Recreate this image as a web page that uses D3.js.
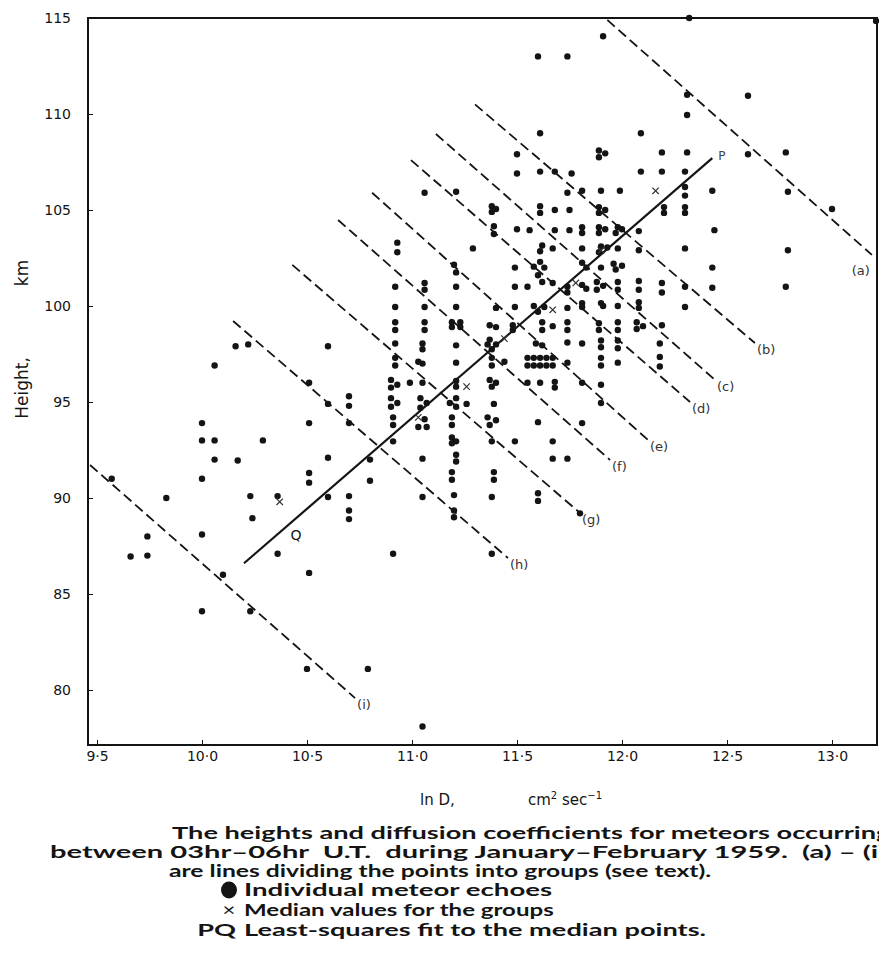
<!DOCTYPE html>
<html><head><meta charset="utf-8">
<script src="https://cdn.jsdelivr.net/npm/d3@7"></script>
<style>body{margin:0;background:#fff}</style>
</head><body><svg id="c" width="879" height="979"></svg>
<script>
const xTicks=[9.5,10,10.5,11,11.5,12,12.5,13];
const xTickLabels=["9·5","10·0","10·5","11·0","11·5","12·0","12·5","13·0"];
const yTicks=[80,85,90,95,100,105,110,115];
const yTickLabels=["80","85","90","95","100","105","110","115"];

// individual meteor echoes [ln D, height km]
const echoes=[
[9.57,91.0],[9.66,86.95],[9.74,88.0],[9.74,87.0],[9.83,90.0],[10.0,91.0],[10.0,88.1],[10.1,86.0],[10.0,84.1],[10.23,84.1],[10.23,90.1],[10.24,88.95],[10.36,90.1],[10.36,87.1],[10.51,86.1],[10.5,81.1],[10.79,81.1],[10.6,90.05],[10.7,90.1],[10.7,89.35],[10.7,88.9],[10.51,90.8],[10.8,90.9],[11.05,78.1],
[10.0,93.0],[10.06,93.0],[10.0,93.9],[10.06,92.0],[10.29,93.0],[10.17,91.95],[10.06,96.9],[10.16,97.9],[10.22,98.0],[10.6,97.9],[10.51,96.0],[10.6,94.9],[10.7,95.3],[10.7,94.8],[10.7,93.9],[10.51,93.9],[10.6,92.1],[10.51,91.3],[10.8,92.0],
[10.93,103.3],[10.93,102.8],[10.92,101.0],[10.92,99.95],[10.92,99.15],[10.92,98.75],[10.92,98.05],[10.92,97.3],[10.92,96.9],[10.9,96.15],[10.93,95.9],[10.9,95.75],[10.9,95.2],[10.93,94.95],[10.9,94.75],[10.91,94.2],[10.91,93.8],[10.91,92.95],[10.91,87.1],[10.99,96.0],
[11.06,105.9],[11.06,101.2],[11.06,100.85],[11.06,99.95],[11.06,99.15],[11.06,98.75],[11.05,98.05],[11.05,97.75],[11.03,97.1],[11.05,97.0],[11.05,96.0],[11.04,95.2],[11.07,94.95],[11.04,94.7],[11.06,94.1],[11.03,93.7],[11.07,93.7],[11.05,92.05],[11.05,90.05],
[11.21,105.95],[11.2,102.15],[11.21,101.75],[11.21,101.0],[11.21,99.95],[11.19,99.15],[11.23,99.15],[11.19,98.9],[11.23,98.9],[11.21,97.95],[11.21,97.05],[11.21,96.1],[11.21,95.8],[11.18,94.95],[11.21,95.2],[11.21,94.75],[11.26,94.9],[11.19,94.2],[11.19,93.8],[11.19,93.15],[11.21,92.95],[11.19,92.85],[11.21,92.25],[11.21,91.9],[11.19,91.35],[11.19,90.95],[11.2,90.15],[11.2,89.35],[11.2,89.0],[11.29,103.0],
[11.38,105.2],[11.4,105.05],[11.38,104.9],[11.39,104.15],[11.39,103.75],[11.4,99.9],[11.37,99.0],[11.4,98.9],[11.36,98.0],[11.4,98.0],[11.38,97.75],[11.37,98.25],[11.38,97.3],[11.38,96.9],[11.44,97.1],[11.37,96.15],[11.4,96.0],[11.38,95.8],[11.39,94.9],[11.36,94.2],[11.4,94.05],[11.37,93.8],[11.38,92.95],[11.39,91.35],[11.39,90.95],[11.38,90.05],[11.38,87.1],
[11.5,107.9],[11.5,106.9],[11.5,104.0],[11.49,102.0],[11.49,101.0],[11.49,99.95],[11.48,99.0],[11.48,98.75],[11.49,92.95],[11.56,103.95],[11.55,101.0],
[11.6,113.0],[11.61,109.0],[11.61,107.0],[11.61,105.2],[11.61,104.85],[11.62,103.15],[11.61,102.85],[11.58,102.05],[11.61,102.3],[11.63,102.0],[11.6,101.6],[11.62,101.25],[11.67,101.2],[11.58,100.0],[11.6,99.7],[11.63,99.95],[11.62,99.15],[11.62,98.75],[11.67,98.95],[11.59,98.05],[11.62,97.95],[11.55,97.3],[11.58,97.3],[11.61,97.3],[11.64,97.3],[11.55,96.9],[11.58,96.9],[11.61,96.9],[11.64,96.9],[11.67,97.3],[11.67,96.9],[11.55,96.0],[11.61,96.0],[11.6,93.95],[11.6,90.25],[11.6,89.85],
[11.68,107.0],[11.68,105.0],[11.68,103.95],[11.67,103.0],[11.68,96.05],[11.68,95.75],[11.67,92.95],[11.67,92.05],
[11.74,113.0],[11.76,106.9],[11.74,105.9],[11.75,105.0],[11.75,103.95],[11.74,101.0],[11.74,100.7],[11.74,99.9],[11.74,99.15],[11.74,98.75],[11.74,98.1],[11.74,97.05],[11.74,92.05],
[11.81,106.0],[11.81,104.1],[11.81,103.8],[11.81,103.0],[11.81,102.25],[11.83,102.0],[11.81,101.1],[11.83,100.9],[11.81,100.15],[11.81,99.95],[11.81,98.05],[11.81,96.0],[11.81,93.9],[11.8,89.2],
[11.91,114.05],[11.89,108.1],[11.89,107.75],[11.92,107.95],[11.9,106.0],[11.89,105.15],[11.89,104.85],[11.92,105.0],[11.89,104.1],[11.92,104.0],[11.89,103.8],[11.9,103.1],[11.93,103.05],[11.89,102.8],[11.9,102.0],[11.88,101.25],[11.91,101.05],[11.88,100.85],[11.9,100.15],[11.91,100.0],[11.89,99.1],[11.89,98.75],[11.9,98.2],[11.9,97.85],[11.9,97.3],[11.9,96.9],[11.9,95.9],[11.9,94.95],
[11.99,106.0],[11.98,104.1],[12.0,104.0],[11.97,103.8],[11.98,103.0],[11.96,102.2],[11.97,101.9],[12.0,102.1],[11.98,101.25],[11.98,100.85],[11.98,100.0],[11.98,99.15],[11.98,98.75],[11.98,98.2],[11.98,97.8],[11.98,97.05],
[12.09,109.0],[12.09,107.0],[12.08,103.9],[12.08,102.9],[12.08,101.3],[12.08,100.85],[12.08,100.2],[12.08,99.9],[12.07,99.15],[12.07,98.8],[12.1,98.95],
[12.19,108.0],[12.19,107.0],[12.2,105.15],[12.2,104.85],[12.19,101.2],[12.19,100.7],[12.19,99.0],[12.18,98.05],[12.18,97.35],[12.18,96.85],
[12.32,115.0],[12.31,111.0],[12.31,109.95],[12.31,108.0],[12.3,107.0],[12.3,106.2],[12.3,105.75],[12.3,105.15],[12.3,104.85],[12.3,103.0],[12.3,101.0],[12.3,99.95],
[12.43,106.0],[12.44,103.95],[12.43,102.0],[12.43,100.95],
[12.6,110.95],[12.6,107.9],[12.78,108.0],[12.79,105.95],[12.79,102.9],[12.78,101.0],[13.0,105.05],[13.21,114.85]
];

// median values for the groups
const medians=[[10.37,89.8],[11.03,94.2],[11.26,95.8],[11.44,98.3],[11.67,99.8],[11.78,101.2],[11.9,102.9],[12.16,106.0]];

// least-squares fit PQ (Q lower end, P upper end)
const fitPQ=[[10.2,86.6],[12.43,107.7]];

// dividing lines (a)-(i): start and end [ln D, height]
const lineIds=["a","b","c","d","e","f","g","h","i"];
const lineStarts=[[11.93,114.9],[11.3,110.5],[11.114,108.96],[10.995,107.6],[10.81,105.9],[10.648,104.48],[10.43,102.14],[10.148,99.22],[9.467,91.72]];
const lineEnds=[[13.19,102.66],[12.633,98.07],[12.443,96.15],[12.324,95.0],[12.124,93.02],[11.943,91.98],[11.8,89.22],[11.457,86.875],[10.729,79.58]];

const captionLines=[
 "The heights and diffusion coefficients for meteors occurring",
 "between 03hr–06hr  U.T.  during January–February 1959.  (a) – (i)",
 "are lines dividing the points into groups (see text)."
];
const legendItems=["Individual meteor echoes","Median values for the groups","Least-squares fit to the median points."];

const svg=d3.select("#c");
const L=88,R=877,T=18,B=745;
const x=d3.scaleLinear().domain([9.5,13.0]).range([97,832]);
const y=d3.scaleLinear().domain([80,115]).range([690,18]);
const ink="#141414";

// frame
svg.append("rect").attr("x",L).attr("y",T).attr("width",R-L).attr("height",B-T)
  .attr("fill","none").attr("stroke",ink).attr("stroke-width",2);

// axes
const xAxis=d3.axisBottom(x).tickValues(xTicks).tickSize(-5).tickFormat((d,i)=>xTickLabels[i]);
const gx=svg.append("g").attr("transform",`translate(0,${B})`).call(xAxis);
gx.select(".domain").remove();
gx.selectAll("line").attr("stroke",ink);
gx.selectAll("text").attr("dy","0.9em").style("font-family","'DejaVu Sans',sans-serif").style("font-size","14px").attr("fill",ink);

const yAxis=d3.axisLeft(y).tickValues(yTicks).tickSize(-5).tickFormat((d,i)=>yTickLabels[i]).tickPadding(17);
const gy=svg.append("g").attr("transform",`translate(${L},0)`).call(yAxis);
gy.select(".domain").remove();
gy.selectAll("line").attr("stroke",ink);
gy.selectAll("text").style("font-family","'DejaVu Sans',sans-serif").style("font-size","14px").attr("fill",ink);

// dividing dashed lines
svg.append("g").selectAll("line").data(lineIds).join("line")
  .attr("x1",(d,i)=>x(lineStarts[i][0])).attr("y1",(d,i)=>y(lineStarts[i][1]))
  .attr("x2",(d,i)=>x(lineEnds[i][0])).attr("y2",(d,i)=>y(lineEnds[i][1]))
  .attr("stroke",ink).attr("stroke-width",1.8).attr("stroke-dasharray","10,5");

svg.append("g").selectAll("text").data(lineIds).join("text")
  .attr("x",(d,i)=>d==="a"?x(lineEnds[i][0])-2:x(lineEnds[i][0])+2)
  .attr("y",(d,i)=>d==="a"?y(lineEnds[i][1])+20:y(lineEnds[i][1])+11)
  .attr("text-anchor",d=>d==="a"?"end":"start")
  .style("font-family","'DejaVu Sans',sans-serif").style("font-size","13px").attr("fill","#333")
  .text(d=>`(${d})`);

// PQ fit
svg.append("line").attr("x1",x(fitPQ[0][0])).attr("y1",y(fitPQ[0][1]))
  .attr("x2",x(fitPQ[1][0])).attr("y2",y(fitPQ[1][1])).attr("stroke",ink).attr("stroke-width",2.2);
svg.append("text").attr("x",x(fitPQ[1][0])+6).attr("y",y(fitPQ[1][1])+2)
  .style("font-family","'DejaVu Sans',sans-serif").style("font-size","12px").attr("fill","#444").text("P");
const qx=10.45;
const qy=fitPQ[0][1]+(qx-fitPQ[0][0])*(fitPQ[1][1]-fitPQ[0][1])/(fitPQ[1][0]-fitPQ[0][0]);
svg.append("text").attr("x",x(qx)-6).attr("y",y(qy)+22)
  .style("font-family","'DejaVu Sans',sans-serif").style("font-size","14px").attr("fill",ink).text("Q");

// echoes
svg.append("g").selectAll("circle").data(echoes).join("circle")
  .attr("cx",d=>x(d[0])).attr("cy",d=>y(d[1])).attr("r",3.2).attr("fill",ink);

// medians
const s=3.2;
svg.append("g").selectAll("path").data(medians).join("path")
  .attr("d",d=>{const cx=x(d[0]),cy=y(d[1]);return `M${cx-s},${cy-s}L${cx+s},${cy+s}M${cx-s},${cy+s}L${cx+s},${cy-s}`;})
  .attr("stroke","#333").attr("stroke-width",1.2).attr("fill","none");

// axis titles
const yt=svg.append("g").attr("transform","translate(28,0)");
yt.append("text").attr("transform","translate(0,388) rotate(-90)").attr("text-anchor","middle")
  .style("font-family","'DejaVu Sans',sans-serif").style("font-size","17px").attr("fill",ink).text("Height,");
yt.append("text").attr("transform","translate(0,273) rotate(-90)").attr("text-anchor","middle")
  .style("font-family","'DejaVu Sans',sans-serif").style("font-size","17px").attr("fill",ink).text("km");
const xt=svg.append("text").attr("x",420).attr("y",805)
  .style("font-family","'DejaVu Sans',sans-serif").style("font-size","15px").attr("fill",ink);
xt.append("tspan").text("ln D,");
xt.append("tspan").attr("x",528).text("cm");
xt.append("tspan").attr("dy",-6).style("font-size","10px").text("2");
xt.append("tspan").attr("dy",6).text(" sec");
xt.append("tspan").attr("dy",-6).style("font-size","10px").text("−1");

// caption (horizontally stretched type, as in the printed figure)
const capFont="Lato, 'Open Sans', sans-serif";
const capSize="17.5px";
const capX=[172,50,169];
const capSx=[1.554,1.662,1.41];
svg.append("g").selectAll("text").data(captionLines).join("text")
  .attr("transform",(d,i)=>`translate(${capX[i]},${839+i*19}) scale(${capSx[i]},1)`)
  .attr("xml:space","preserve")
  .style("font-family",capFont).style("font-size",capSize).style("font-weight","700").attr("fill",ink)
  .text(d=>d);

// legend
const legY=[896,916,936];
const legSx=[1.58,1.374,1.554];
svg.append("ellipse").attr("cx",229).attr("cy",legY[0]-6).attr("rx",8).attr("ry",8.5).attr("fill",ink);
svg.append("text").attr("transform",`translate(229,${legY[1]}) scale(1.3,1)`).attr("text-anchor","middle")
  .style("font-family",capFont).style("font-size","17px").attr("fill",ink).text("×");
svg.append("text").attr("transform",`translate(236,${legY[2]}) scale(1.554,1)`).attr("text-anchor","end")
  .style("font-family",capFont).style("font-size",capSize).style("font-weight","700").attr("fill",ink).text("PQ");
svg.append("g").selectAll("text").data(legendItems).join("text")
  .attr("transform",(d,i)=>`translate(244,${legY[i]}) scale(${legSx[i]},1)`)
  .style("font-family",capFont).style("font-size",capSize).style("font-weight","700").attr("fill",ink)
  .text(d=>d);
</script></body></html>
